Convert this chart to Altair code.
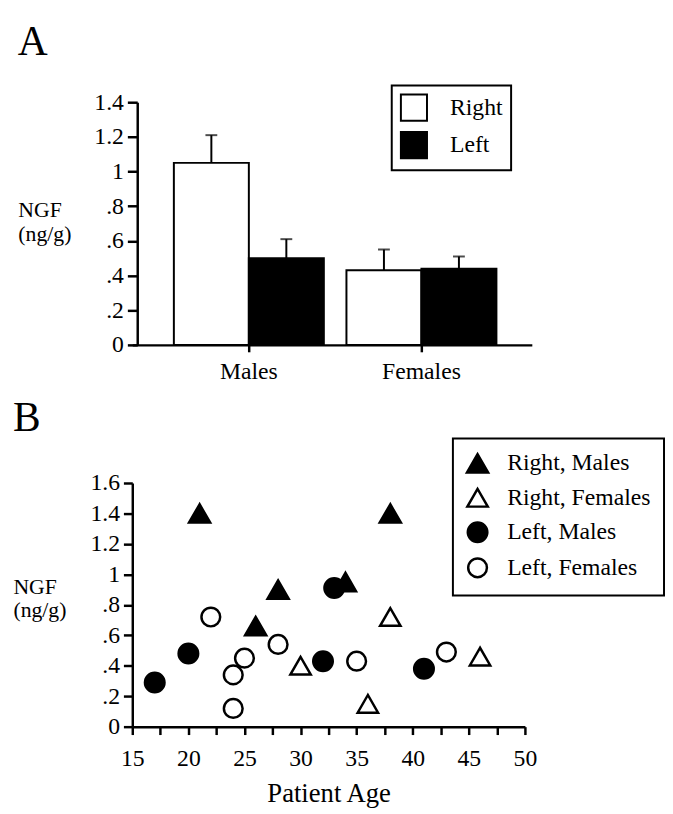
import altair as alt
import pandas as pd

# ---------- Panel A data ----------
SEX = ["Males", "Males", "Females", "Females"]
SIDE = ["Right", "Left", "Right", "Left"]
MEAN = [1.05, 0.50, 0.43, 0.44]
UPPER = [1.21, 0.61, 0.55, 0.51]

Y_TICKS_A = [0, 0.2, 0.4, 0.6, 0.8, 1.0, 1.2, 1.4]
Y_LABELS_A = ["0", ".2", ".4", ".6", ".8", "1", "1.2", "1.4"]

# ---------- Panel B data ----------
RM_AGE = [21, 26, 28, 34, 38]
RM_NGF = [1.40, 0.66, 0.90, 0.95, 1.40]
RF_AGE = [30, 36, 38, 46]
RF_NGF = [0.40, 0.15, 0.72, 0.46]
LM_AGE = [17, 20, 32, 33, 41]
LM_NGF = [0.29, 0.48, 0.43, 0.91, 0.38]
LF_AGE = [22, 24, 24, 25, 28, 35, 43]
LF_NGF = [0.72, 0.34, 0.12, 0.45, 0.54, 0.43, 0.49]

SERIES = ["Right, Males", "Right, Females", "Left, Males", "Left, Females"]

X_TICKS_B = [15, 17.5, 20, 22.5, 25, 27.5, 30, 32.5, 35, 37.5, 40, 42.5, 45, 47.5, 50]
X_LABELS_B = ["15", "", "20", "", "25", "", "30", "", "35", "", "40", "", "45", "", "50"]
Y_TICKS_B = [0, 0.2, 0.4, 0.6, 0.8, 1.0, 1.2, 1.4, 1.6]
Y_LABELS_B = ["0", ".2", ".4", ".6", ".8", "1", "1.2", "1.4", "1.6"]

FONT = "Liberation Serif"
FS = 24


def label_expr(ticks, labels):
    parts = [f"abs(datum.value - ({t})) < 1e-6 ? '{l}'" for t, l in zip(ticks, labels)]
    return " : ".join(parts) + " : ''"


df_a = pd.DataFrame({"sex": SEX, "side": SIDE, "mean": MEAN, "upper": UPPER})

x_a = alt.X("sex:N", sort=["Males", "Females"],
            scale=alt.Scale(paddingInner=0.131, paddingOuter=0.223, align=0.54),
            axis=alt.Axis(title=None, labelAngle=0, tickSize=7, labelPadding=8))
xo_a = alt.XOffset("side:N", sort=["Right", "Left"],
                   scale=alt.Scale(paddingInner=0, paddingOuter=0))
axis_ya = alt.Axis(values=Y_TICKS_A, labelExpr=label_expr(Y_TICKS_A, Y_LABELS_A),
                   labelOverlap=False, labelFlush=False, offset=-5,
                   title=["NGF", "(ng/g)"], titleAngle=0, titleAlign="left",
                   titleBaseline="middle", titleX=-121, titleY=109,
                   titleFontSize=22, titleLineHeight=24, tickSize=10, labelPadding=4)
scale_ya = alt.Scale(domain=[0, 1.4], nice=False)

bars = alt.Chart(df_a).mark_bar(stroke="black", strokeWidth=2).encode(
    x=x_a, xOffset=xo_a,
    y=alt.Y("mean:Q", scale=scale_ya, axis=axis_ya),
    fill=alt.Fill("side:N", sort=["Right", "Left"],
                  scale=alt.Scale(domain=["Right", "Left"], range=["white", "black"]),
                  legend=alt.Legend(title=None, orient="none", legendX=263, legendY=-17,
                                    symbolType="square", symbolSize=700,
                                    symbolStrokeColor="black", symbolStrokeWidth=2,
                                    symbolOpacity=1,
                                    labelFont=FONT, labelFontSize=FS, labelColor="black",
                                    labelOffset=22, rowPadding=3, padding=8,
                                    strokeColor="black")),
)
err = alt.Chart(df_a).mark_rule(color="black", strokeWidth=2).encode(
    x=x_a, xOffset=xo_a,
    y=alt.Y("mean:Q", scale=scale_ya, axis=axis_ya), y2="upper:Q"
)
caps = alt.Chart(df_a).mark_tick(color="black", thickness=2, size=12).encode(
    x=x_a, xOffset=xo_a,
    y=alt.Y("upper:Q", scale=scale_ya, axis=axis_ya)
)

panel_a = alt.layer(bars, err, caps).properties(
    width=405, height=246,
    title=alt.TitleParams("A", anchor="start", frame="bounds", fontSize=42,
                          font=FONT, fontWeight="normal", offset=21),
)

# ---------- Panel B ----------
ages = RM_AGE + RF_AGE + LM_AGE + LF_AGE
ngfs = RM_NGF + RF_NGF + LM_NGF + LF_NGF
groups = ([SERIES[0]] * len(RM_AGE) + [SERIES[1]] * len(RF_AGE)
          + [SERIES[2]] * len(LM_AGE) + [SERIES[3]] * len(LF_AGE))
df_b = pd.DataFrame({"age": ages, "ngf": ngfs, "group": groups})

leg_b = alt.Legend(title=None, orient="none", legendX=325, legendY=-45,
                   symbolStrokeColor="black", symbolStrokeWidth=2.5, symbolOpacity=1,
                   labelFont=FONT, labelFontSize=FS, labelColor="black",
                   labelOffset=18, rowPadding=6, padding=13,
                   strokeColor="black")

points = alt.Chart(df_b).mark_point(strokeWidth=2.5, opacity=1).encode(
    x=alt.X("age:Q", scale=alt.Scale(domain=[15, 50], nice=False),
            axis=alt.Axis(values=X_TICKS_B, labelExpr=label_expr(X_TICKS_B, X_LABELS_B),
                          labelOverlap=False, labelFlush=False,
                          title="Patient Age", titleFontSize=27, tickSize=8,
                          labelPadding=12, titlePadding=11)),
    y=alt.Y("ngf:Q", scale=alt.Scale(domain=[0, 1.6], nice=False),
            axis=alt.Axis(values=Y_TICKS_B, labelExpr=label_expr(Y_TICKS_B, Y_LABELS_B),
                          labelOverlap=False, labelFlush=False,
                          title=["NGF", "(ng/g)"], titleAngle=0, titleAlign="left",
                          titleBaseline="middle", titleX=-121, titleY=105,
                          titleFontSize=22, titleLineHeight=23, tickSize=9, labelPadding=4)),
    shape=alt.Shape("group:N", sort=SERIES,
                    scale=alt.Scale(domain=SERIES,
                                    range=["triangle-up", "triangle-up", "circle", "circle"]),
                    legend=leg_b),
    fill=alt.Fill("group:N", sort=SERIES,
                  scale=alt.Scale(domain=SERIES, range=["black", "white", "black", "white"]),
                  legend=leg_b),
    stroke=alt.Stroke("group:N", sort=SERIES,
                      scale=alt.Scale(domain=SERIES, range=["black", "black", "black", "black"]),
                      legend=leg_b),
    size=alt.Size("group:N", sort=SERIES,
                  scale=alt.Scale(domain=SERIES, range=[460, 360, 280, 150]),
                  legend=leg_b),
)

panel_b = points.properties(
    width=398, height=247,
    title=alt.TitleParams("B", anchor="start", frame="bounds", fontSize=42,
                          font=FONT, fontWeight="normal", offset=-2),
)

chart = alt.vconcat(panel_a, panel_b, spacing=14).resolve_scale(
    fill="independent", shape="independent", size="independent", stroke="independent"
).resolve_legend(
    fill="independent", shape="independent", size="independent", stroke="independent"
).configure(
    padding={"left": 5, "top": 8, "right": 0, "bottom": 0},
    font=FONT,
).configure_view(stroke=None).configure_axis(
    labelFont=FONT, titleFont=FONT, labelFontSize=FS, titleFontSize=FS,
    titleFontWeight="normal", labelColor="black", titleColor="black",
    domainColor="black", tickColor="black", domainWidth=2.5, tickWidth=2.5,
    grid=False, labelFlush=False,
).configure_legend(strokeWidth=2)

chart.save("out.html", embed_options={"renderer": "svg", "actions": False})
